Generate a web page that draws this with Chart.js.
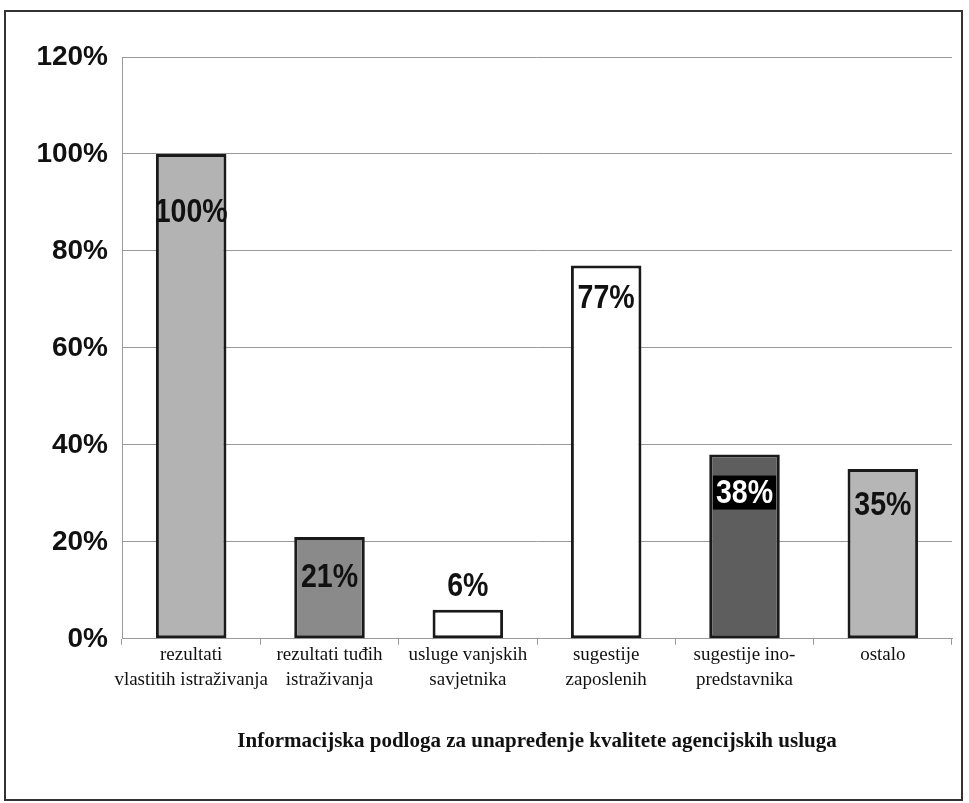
<!DOCTYPE html>
<html>
<head>
<meta charset="utf-8">
<script src="https://cdn.jsdelivr.net/npm/chart.js@4"></script>
<style>
  html, body { margin: 0; padding: 0; background: #fff; }
  #wrap { position: relative; width: 969px; height: 803px; }
</style>
</head>
<body>
<div id="wrap"><canvas id="chart"></canvas></div>
<script>
// data
const categories = [
  ['rezultati', 'vlastitih istraživanja'],
  ['rezultati tuđih', 'istraživanja'],
  ['usluge vanjskih', 'savjetnika'],
  ['sugestije', 'zaposlenih'],
  ['sugestije ino-', 'predstavnika'],
  ['ostalo']
];
const values = [100, 21, 6, 77, 38, 35];
const yTicks = [0, 20, 40, 60, 80, 100, 120];
const chartTitle = 'Informacijska podloga za unapređenje kvalitete agencijskih usluga';

const barColors = ['#b3b3b3', '#8a8a8a', '#ffffff', '#ffffff', '#5e5e5e', '#b6b6b6'];
const sans = '"Liberation Sans", Arial, sans-serif';
const serif = '"Liberation Serif", "Times New Roman", serif';

// value labels drawn inside / above each bar (squeezed like Arial Narrow)
const valueLabels = {
  id: 'valueLabels',
  afterDatasetsDraw(chart) {
    const ctx = chart.ctx;
    const offsets = [58, 40, -24, 32, 38, 36];
    const sx = 0.84;
    const meta = chart.getDatasetMeta(0);
    ctx.save();
    ctx.font = 'bold 34px ' + sans;
    ctx.textAlign = 'center';
    ctx.textBaseline = 'middle';
    meta.data.forEach((bar, i) => {
      const txt = values[i] + '%';
      const y = bar.y + offsets[i];
      const w = ctx.measureText(txt).width * sx;
      if (i === 4) {
        ctx.fillStyle = '#000';
        ctx.fillRect(bar.x - w / 2 - 3, y - 17, w + 6, 34);
      }
      ctx.save();
      ctx.translate(bar.x, y + 1);
      ctx.scale(sx, 1);
      ctx.fillStyle = i === 4 ? '#fff' : '#111';
      ctx.fillText(txt, 0, 0);
      ctx.restore();
    });
    ctx.restore();
  }
};

// outer frame of the scanned figure
const frame = {
  id: 'frame',
  afterDraw(chart) {
    const ctx = chart.ctx;
    ctx.save();
    ctx.strokeStyle = '#333';
    ctx.lineWidth = 2;
    ctx.strokeRect(5, 11, 957, 789);
    ctx.restore();
  }
};

new Chart(document.getElementById('chart'), {
  type: 'bar',
  data: {
    labels: categories,
    datasets: [{
      data: values,
      backgroundColor: barColors,
      borderColor: '#1a1a1a',
      borderWidth: 3,
      borderSkipped: false,
      barPercentage: 0.51,
      categoryPercentage: 1
    }]
  },
  options: {
    responsive: true,
    maintainAspectRatio: false,
    animation: false,
    layout: { padding: { left: 0, right: 17, top: 57, bottom: 49 } },
    plugins: {
      legend: { display: false },
      tooltip: { enabled: false },
      title: {
        display: true,
        position: 'bottom',
        fullSize: false,
        text: chartTitle,
        color: '#111',
        font: { family: serif, size: 21, weight: 'bold' },
        padding: { top: 30, bottom: 0 }
      }
    },
    scales: {
      x: {
        grid: { drawOnChartArea: false, tickLength: 6, color: '#999' },
        border: { color: '#999' },
        ticks: {
          color: '#111',
          padding: -2,
          maxRotation: 0,
          autoSkip: false,
          font: { family: serif, size: 19, lineHeight: 1.3 }
        },
        afterFit(axis) { axis.height = 60; }
      },
      y: {
        min: 0,
        max: 120,
        afterBuildTicks(axis) { axis.ticks = yTicks.map(v => ({ value: v })); },
        grid: { color: '#999', drawTicks: false },
        border: { color: '#999' },
        ticks: {
          color: '#111',
          padding: 14,
          font: { family: sans, size: 28, weight: 'bold' },
          callback: v => v + '%'
        },
        afterFit(axis) { axis.width = 122; }
      }
    }
  },
  plugins: [valueLabels, frame]
});
</script>
</body>
</html>
